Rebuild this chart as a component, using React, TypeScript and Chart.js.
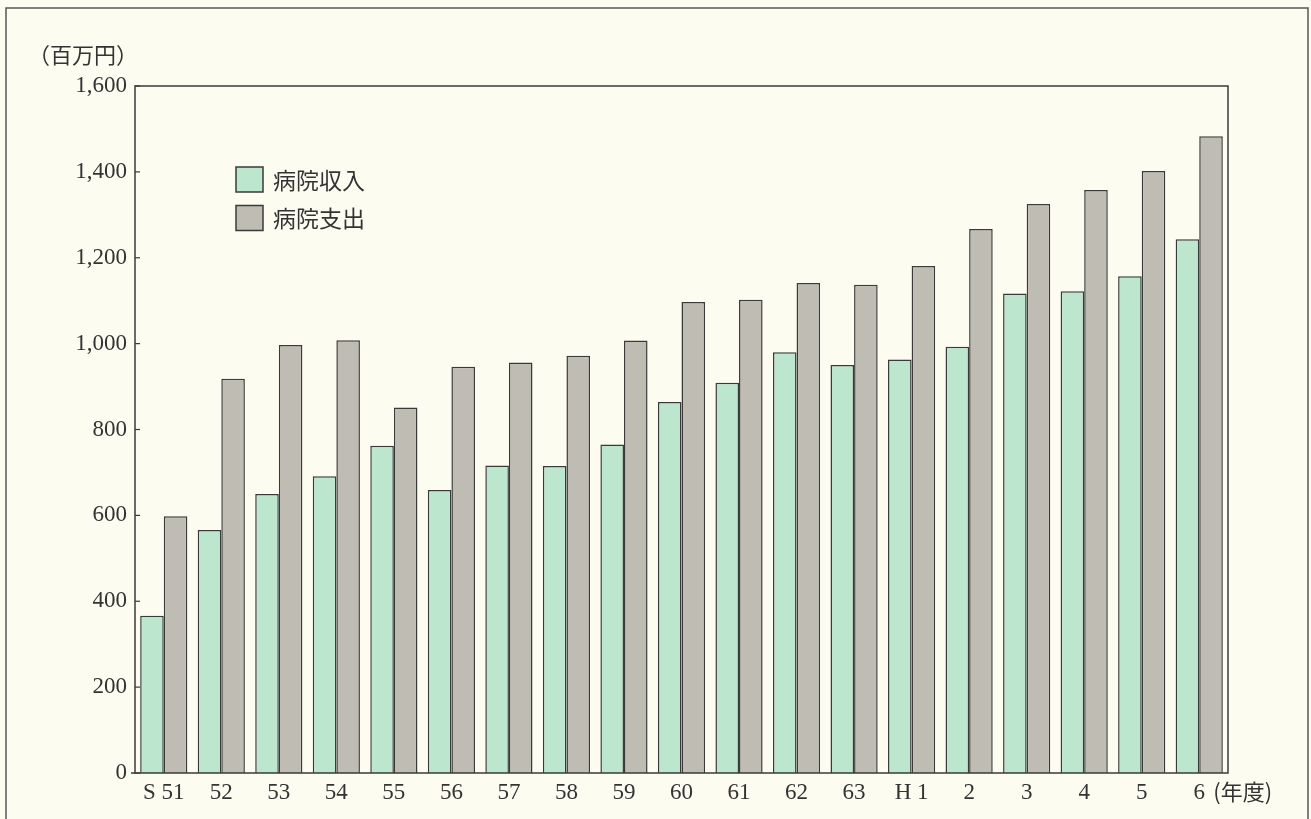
import React, { useEffect, useRef } from "react";
import { Chart, registerables } from "chart.js";

Chart.register(...registerables);

const categories = ["S 51", "52", "53", "54", "55", "56", "57", "58", "59", "60", "61", "62", "63", "H 1", "2", "3", "4", "5", "6"];
const incomeValues = [366, 566, 650, 691, 762, 659, 716, 715, 765, 864, 909, 980, 950, 963, 993, 1117, 1122, 1157, 1243];
const expenseValues = [598, 918, 997, 1008, 851, 946, 956, 972, 1007, 1097, 1102, 1141, 1137, 1181, 1267, 1325, 1358, 1402, 1483];
const seriesLabels = ["病院収入", "病院支出"];
const yUnitLabel = "（百万円）";
const xUnitLabel = "(年度)";

const BG = "#fcfcf1";
const GREEN = "#bde6cf";
const GRAY = "#bfbcb4";
const INK = "#3a3a3a";
const SERIF = "'Liberation Serif', 'DejaVu Serif', 'Noto Sans CJK JP', serif";
const CJK = "'Noto Sans CJK JP', 'Liberation Serif', serif";

const decorPlugin = {
  id: "decor",
  beforeDraw(chart: any) {
    const ctx = chart.ctx;
    ctx.save();
    ctx.fillStyle = BG;
    ctx.fillRect(0, 0, chart.width, chart.height);
    ctx.restore();
  },
  afterDraw(chart: any) {
    const ctx = chart.ctx;
    const area = chart.chartArea;
    const yScale = chart.scales.y;
    const xScale = chart.scales.x;
    ctx.save();
    // outer figure frame
    ctx.strokeStyle = "#555";
    ctx.lineWidth = 1.5;
    ctx.beginPath();
    ctx.moveTo(6, chart.height + 2);
    ctx.lineTo(6, 8);
    ctx.lineTo(1308, 8);
    ctx.lineTo(1308, chart.height + 2);
    ctx.stroke();

    // plot frame
    ctx.strokeStyle = INK;
    ctx.lineWidth = 1.5;
    ctx.strokeRect(area.left, area.top, area.right - area.left, area.bottom - area.top);
    ctx.beginPath();
    ctx.moveTo(area.left - 4, area.bottom);
    ctx.lineTo(area.left, area.bottom);
    ctx.stroke();

    // inward y ticks
    ctx.lineWidth = 1.2;
    yScale.ticks.forEach((t: any) => {
      const py = yScale.getPixelForValue(t.value);
      ctx.beginPath();
      ctx.moveTo(area.left, py);
      ctx.lineTo(area.left + 5, py);
      ctx.stroke();
    });

    // y unit label
    ctx.fillStyle = "#333";
    ctx.font = `22px ${CJK}`;
    ctx.textAlign = "left";
    ctx.textBaseline = "middle";
    ctx.fillText(yUnitLabel, 28, 55);

    // x unit label after last category
    const lastX = xScale.getPixelForValue(categories.length - 1);
    ctx.font = `22px ${CJK}`;
    ctx.fillText(xUnitLabel, lastX + 14, 792);

    // legend inside plot
    const lx = area.left + 101;
    const ly = area.top + 81;
    chart.data.datasets.forEach((ds: any, i: number) => {
      const by = ly + i * 38.5;
      ctx.fillStyle = ds.backgroundColor;
      ctx.fillRect(lx, by, 27, 25);
      ctx.strokeStyle = INK;
      ctx.lineWidth = 1.5;
      ctx.strokeRect(lx, by, 27, 25);
      ctx.fillStyle = "#333";
      ctx.font = `23px ${CJK}`;
      ctx.textBaseline = "middle";
      ctx.fillText(ds.label, lx + 37, by + 13);
    });
    ctx.restore();
  },
};

export default function App() {
  const ref = useRef<HTMLCanvasElement>(null);
  useEffect(() => {
    document.body.style.margin = "0";
    document.body.style.background = BG;
    const canvas = ref.current!;
    const chart = new Chart(canvas, {
      type: "bar",
      data: {
        labels: categories,
        datasets: [
          {
            label: seriesLabels[0],
            data: incomeValues,
            backgroundColor: GREEN,
            borderColor: INK,
            borderWidth: 1.5,
            categoryPercentage: 0.82,
            barPercentage: 1.0,
          },
          {
            label: seriesLabels[1],
            data: expenseValues,
            backgroundColor: GRAY,
            borderColor: INK,
            borderWidth: 1.5,
            categoryPercentage: 0.82,
            barPercentage: 1.0,
          },
        ],
      },
      options: {
        responsive: false,
        animation: false,
        maintainAspectRatio: false,
        layout: { padding: { left: 0, top: 86, right: 83, bottom: 0 } },
        plugins: {
          legend: { display: false },
          tooltip: { enabled: false },
          title: { display: false },
        },
        scales: {
          x: {
            grid: { display: false, drawTicks: false },
            border: { display: false },
            ticks: {
              color: "#333",
              padding: 6,
              font: { family: SERIF, size: 23 },
              maxRotation: 0,
              autoSkip: false,
            },
            afterFit: (axis: any) => {
              axis.height = 46;
            },
          },
          y: {
            min: 0,
            max: 1600,
            grid: { display: false, drawTicks: false },
            border: { display: false },
            ticks: {
              stepSize: 200,
              color: "#333",
              padding: 8,
              font: { family: SERIF, size: 23 },
              callback: (v: any) => Number(v).toLocaleString("en-US"),
            },
            afterFit: (axis: any) => {
              axis.width = 135;
            },
          },
        },
      },
      plugins: [decorPlugin],
    });
    return () => chart.destroy();
  }, []);
  return <canvas ref={ref} width={1311} height={819} style={{ display: "block" }} />;
}
